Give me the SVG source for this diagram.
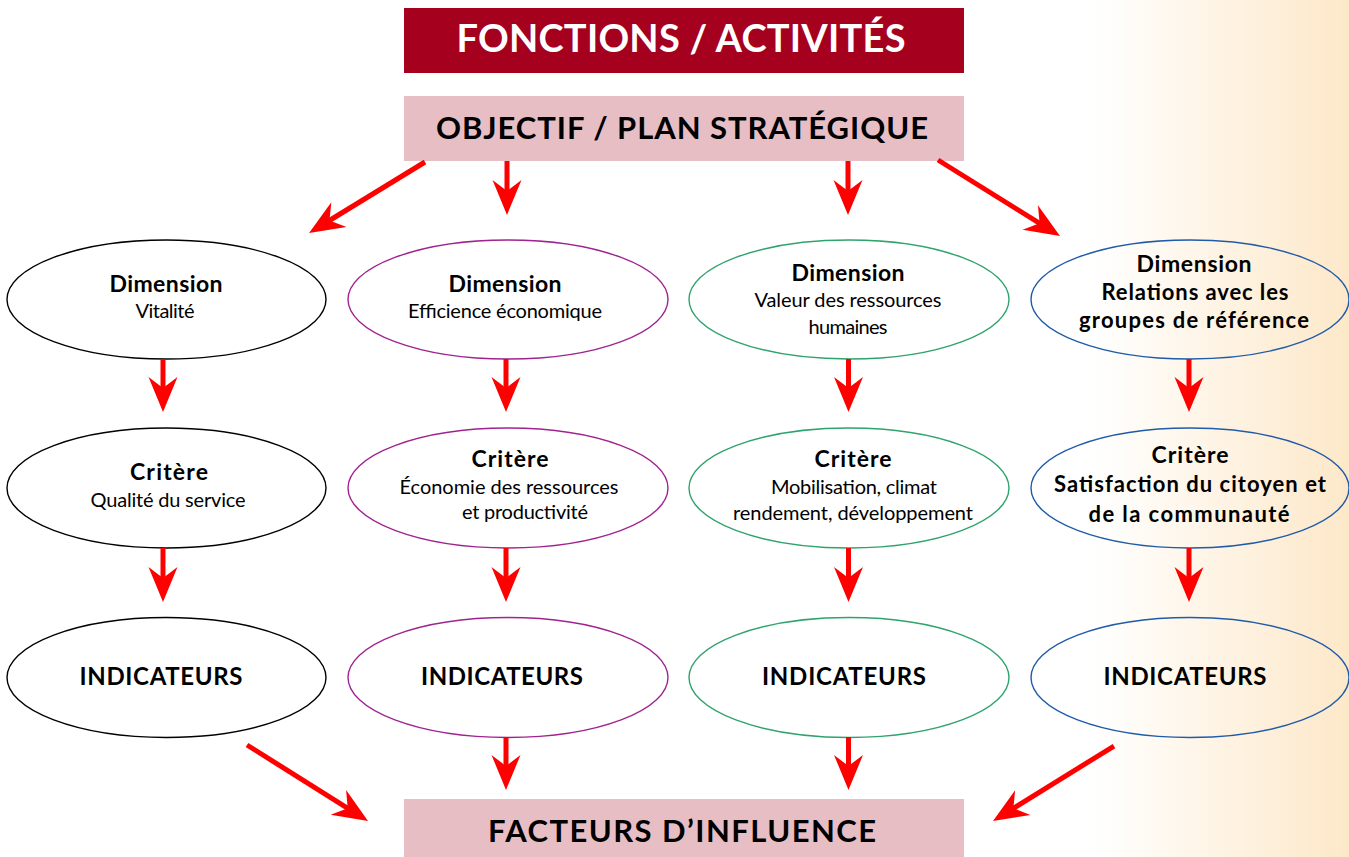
<svg xmlns="http://www.w3.org/2000/svg" width="1349" height="857" viewBox="0 0 1349 857">
<defs>
<linearGradient id="bg" x1="0" y1="0" x2="1349" y2="0" gradientUnits="userSpaceOnUse">
<stop offset="0.81" stop-color="#ffffff"/>
<stop offset="1" stop-color="#fde8c9"/>
</linearGradient>
<marker id="ah" markerUnits="userSpaceOnUse" viewBox="0 0 36 30" refX="14" refY="15" markerWidth="36" markerHeight="30" orient="auto">
<path d="M36,15 L1,0.5 L12,15 L1,29.5 Z" fill="#ff0000"/>
</marker>
<style>
.t{font-family:Lato,"Open Sans","Liberation Sans",sans-serif;text-anchor:middle;fill:#000}
.b{font-weight:bold}
.h{font-size:23px;font-weight:bold}
.r{font-size:20px}
.bb{font-size:22px;font-weight:bold}
.ind{font-size:24px;font-weight:bold}
.e{fill:none;stroke-width:1.4}
.k{stroke:#000}
.p{stroke:#a0248f}
.g{stroke:#2ea36b}
.u{stroke:#1f5ba8}
.a{stroke:#ff0000;stroke-width:5;fill:none;marker-end:url(#ah)}
</style>
</defs>
<rect x="0" y="0" width="1349" height="857" fill="url(#bg)"/>

<g id="fonctions">
<rect x="404" y="8" width="560" height="65" fill="#a6001f"/>
<text class="t b" x="681" y="52" font-size="38" style="fill:#fff" textLength="449">FONCTIONS / ACTIVITÉS</text>
</g>
<g id="objectif">
<rect x="404" y="96" width="560" height="65" fill="#e8bec5"/>
<text class="t b" x="682" y="139" font-size="31" textLength="492">OBJECTIF / PLAN STRATÉGIQUE</text>
</g>
<g id="facteurs">
<rect x="404" y="799" width="560" height="60" fill="#e8bec5"/>
<text class="t b" x="682" y="842" font-size="31" textLength="388">FACTEURS D’INFLUENCE</text>
</g>

<g id="dim1">
<ellipse class="e k" cx="166.5" cy="299.5" rx="159.5" ry="59.5"/>
<text class="t h" x="166" y="292" textLength="113">Dimension</text>
<text class="t r" x="165" y="318" textLength="59">Vitalité</text>
</g>
<g id="dim2">
<ellipse class="e p" cx="508" cy="299.5" rx="160" ry="59.5"/>
<text class="t h" x="505" y="292" textLength="113">Dimension</text>
<text class="t r" x="505" y="318" textLength="194">Efficience économique</text>
</g>
<g id="dim3">
<ellipse class="e g" cx="849" cy="299.5" rx="160" ry="59.5"/>
<text class="t h" x="848" y="281" textLength="113">Dimension</text>
<text class="t r" x="848" y="307" textLength="187">Valeur des ressources</text>
<text class="t r" x="848" y="334" textLength="79">humaines</text>
</g>
<g id="dim4">
<ellipse class="e u" cx="1190" cy="299.5" rx="159" ry="59.5"/>
<text class="t h" x="1194" y="272" textLength="115">Dimension</text>
<text class="t bb" x="1195" y="300" textLength="187">Relations avec les</text>
<text class="t bb" x="1194" y="328" textLength="230">groupes de référence</text>
</g>

<g id="crit1">
<ellipse class="e k" cx="166.5" cy="488" rx="159.5" ry="60"/>
<text class="t h" x="169" y="480" textLength="78">Critère</text>
<text class="t r" x="168" y="507" textLength="155">Qualité du service</text>
</g>
<g id="crit2">
<ellipse class="e p" cx="508" cy="488" rx="160" ry="60"/>
<text class="t h" x="510" y="467" textLength="77">Critère</text>
<text class="t r" x="509" y="494" textLength="219">Économie des ressources</text>
<text class="t r" x="525" y="519" textLength="126">et productivité</text>
</g>
<g id="crit3">
<ellipse class="e g" cx="849" cy="488" rx="160" ry="60"/>
<text class="t h" x="853" y="467" textLength="77">Critère</text>
<text class="t r" x="854" y="494" textLength="166">Mobilisation, climat</text>
<text class="t r" x="853" y="520" textLength="240">rendement, développement</text>
</g>
<g id="crit4">
<ellipse class="e u" cx="1190" cy="488" rx="159" ry="60"/>
<text class="t h" x="1190" y="463" textLength="77">Critère</text>
<text class="t bb" x="1190" y="492" textLength="272">Satisfaction du citoyen et</text>
<text class="t bb" x="1189" y="522" textLength="201">de la communauté</text>
</g>

<g id="ind1">
<ellipse class="e k" cx="166.5" cy="677.5" rx="159.5" ry="60"/>
<text class="t ind" x="161" y="685" textLength="163">INDICATEURS</text>
</g>
<g id="ind2">
<ellipse class="e p" cx="508" cy="677.5" rx="160" ry="60"/>
<text class="t ind" x="502" y="685" textLength="162">INDICATEURS</text>
</g>
<g id="ind3">
<ellipse class="e g" cx="849" cy="677.5" rx="160" ry="60"/>
<text class="t ind" x="844" y="685" textLength="164">INDICATEURS</text>
</g>
<g id="ind4">
<ellipse class="e u" cx="1190" cy="677.5" rx="159" ry="60"/>
<text class="t ind" x="1185" y="685" textLength="163">INDICATEURS</text>
</g>

<g id="connectors">
<line class="a" x1="425" y1="162" x2="327.8" y2="221.5"/>
<line class="a" x1="507" y1="161" x2="507" y2="193"/>
<line class="a" x1="848" y1="161" x2="848" y2="193"/>
<line class="a" x1="938" y1="160" x2="1041.3" y2="224.4"/>

<line class="a" x1="163" y1="359" x2="163" y2="390"/>
<line class="a" x1="506" y1="359" x2="506" y2="390"/>
<line class="a" x1="848.5" y1="359" x2="848.5" y2="390"/>
<line class="a" x1="1189" y1="359" x2="1189" y2="390"/>

<line class="a" x1="163" y1="548" x2="163" y2="580"/>
<line class="a" x1="506" y1="548" x2="506" y2="580"/>
<line class="a" x1="848.5" y1="548" x2="848.5" y2="580"/>
<line class="a" x1="1189" y1="548" x2="1189" y2="580"/>

<line class="a" x1="506" y1="737" x2="506" y2="768"/>
<line class="a" x1="848.5" y1="737" x2="848.5" y2="768"/>
<line class="a" x1="247" y1="745" x2="349.4" y2="809.3"/>
<line class="a" x1="1114" y1="746" x2="1011.7" y2="809.4"/>
</g>
</svg>
